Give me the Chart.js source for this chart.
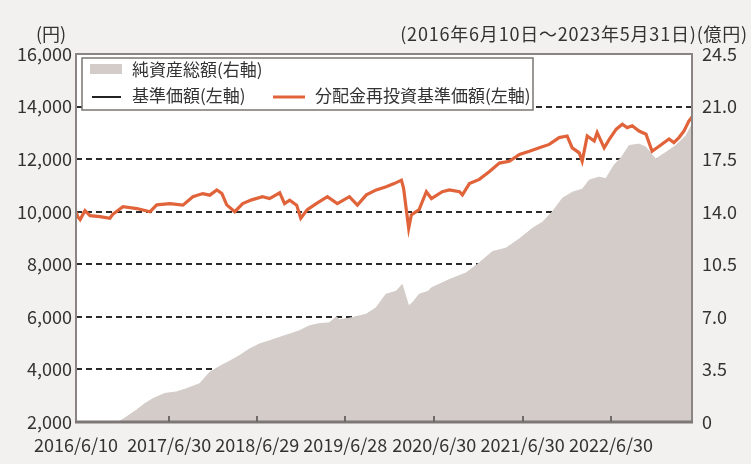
<!DOCTYPE html>
<html>
<head>
<meta charset="utf-8">
<script src="https://cdn.jsdelivr.net/npm/chart.js@4.4.1/dist/chart.umd.min.js"></script>
<style>
  html, body { margin: 0; padding: 0; background: #f2f1ef; }
  #wrap { width: 751px; height: 464px; position: relative; }
  canvas { display: block; }
</style>
</head>
<body>
<div id="wrap"><canvas id="c" width="751" height="464"></canvas></div>
<script>
// ---------- data ----------
const seriesLabels = ['純資産総額(右軸)', '基準価額(左軸)', '分配金再投資基準価額(左軸)'];
const leftUnit = '(円)';
const rightHeader = '(2016年6月10日～2023年5月31日)(億円)';
const startDate = '2016-06-10';
const endDate = '2023-05-31';
const xTickDates = ['2016-06-10','2017-06-30','2018-06-29','2019-06-28','2020-06-30','2021-06-30','2022-06-30'];
const xTickLabels = ['2016/6/10','2017/6/30','2018/6/29','2019/6/28','2020/6/30','2021/6/30','2022/6/30'];

const navDates = ['2016-06-10','2016-06-18','2016-06-27','2016-07-17','2016-08-07','2016-09-17','2016-10-28','2016-11-09','2016-12-21','2017-02-17','2017-04-12','2017-05-10','2017-07-03','2017-08-26','2017-10-06','2017-11-16','2017-12-15','2018-01-13','2018-02-03','2018-02-23','2018-03-28','2018-04-30','2018-06-06','2018-07-21','2018-08-19','2018-09-30','2018-10-20','2018-11-10','2018-12-09','2018-12-26','2019-01-22','2019-02-28','2019-04-15','2019-05-26','2019-07-15','2019-08-17','2019-09-23','2019-11-03','2019-12-14','2020-01-16','2020-02-15','2020-02-24','2020-03-16','2020-03-27','2020-04-28','2020-05-28','2020-06-18','2020-08-02','2020-08-31','2020-10-12','2020-10-24','2020-11-22','2021-01-02','2021-02-13','2021-03-26','2021-05-06','2021-06-17','2021-07-28','2021-09-07','2021-10-18','2021-11-28','2021-12-31','2022-01-21','2022-02-19','2022-03-03','2022-03-24','2022-04-22','2022-05-04','2022-06-02','2022-06-23','2022-07-22','2022-08-16','2022-09-05','2022-09-26','2022-10-24','2022-11-22','2022-12-17','2023-01-15','2023-02-25','2023-03-17','2023-04-07','2023-04-28','2023-05-18','2023-05-31'];
const reinvestNav = [10000,9800,9700,10040,9850,9810,9750,9900,10190,10120,10000,10260,10310,10250,10570,10690,10630,10830,10690,10260,10000,10310,10450,10570,10500,10720,10310,10440,10250,9750,10080,10310,10570,10310,10570,10250,10640,10830,10950,11070,11200,10890,9370,9880,10080,10760,10500,10760,10830,10760,10640,11070,11230,11530,11850,11920,12180,12300,12430,12560,12820,12880,12430,12240,11920,12880,12690,13010,12430,12750,13140,13330,13200,13270,13070,12950,12300,12490,12770,12630,12820,13070,13450,13600];
const baseNav = [10000,9800,9700,10040,9850,9810,9750,9900,10190,10120,10000,10260,10310,10250,10570,10690,10630,10830,10690,10260,10000,10310,10450,10570,10500,10720,10310,10440,10250,9750,10080,10310,10570,10310,10570,10250,10640,10830,10950,11070,11200,10890,9370,9880,10080,10760,10500,10760,10830,10760,10640,11070,11230,11530,11850,11920,12180,12300,12430,12560,12820,12880,12430,12240,11920,12880,12690,13010,12430,12750,13140,13330,13200,13270,13070,12950,12300,12490,12770,12630,12820,13070,13450,13600];

const assetDates = ['2016-06-10','2016-12-01','2016-12-16','2017-01-06','2017-02-16','2017-03-22','2017-04-25','2017-06-12','2017-07-30','2017-09-10','2017-11-03','2017-12-14','2018-01-24','2018-03-07','2018-04-17','2018-05-28','2018-07-08','2018-08-19','2018-09-29','2018-11-09','2018-12-20','2019-01-31','2019-03-13','2019-04-23','2019-05-22','2019-06-04','2019-07-28','2019-09-22','2019-11-02','2019-12-13','2020-01-24','2020-02-18','2020-03-16','2020-04-04','2020-04-28','2020-06-05','2020-06-18','2020-08-31','2020-11-08','2021-01-02','2021-02-26','2021-04-22','2021-06-17','2021-08-10','2021-09-20','2021-10-31','2021-12-12','2022-01-22','2022-03-04','2022-04-01','2022-05-12','2022-06-09','2022-07-13','2022-08-16','2022-09-13','2022-10-24','2022-11-21','2023-01-01','2023-02-12','2023-03-25','2023-05-06','2023-05-31'];
const netAssets = [0,0,0.13,0.35,0.8,1.23,1.56,1.9,2.0,2.22,2.55,3.3,3.7,4.05,4.42,4.86,5.19,5.41,5.63,5.85,6.07,6.4,6.55,6.6,7.0,6.8,6.95,7.17,7.6,8.5,8.7,9.15,7.72,8.0,8.5,8.7,8.93,9.48,9.92,10.6,11.35,11.57,12.2,12.9,13.3,14.0,14.9,15.3,15.5,16.1,16.3,16.2,17.1,17.7,18.4,18.5,18.3,17.5,17.95,18.4,19.05,19.8];

// ---------- helpers ----------
function dayNum(s) {
  const p = s.split('-').map(Number);
  const q = startDate.split('-').map(Number);
  return Math.round((Date.UTC(p[0], p[1] - 1, p[2]) - Date.UTC(q[0], q[1] - 1, q[2])) / 86400000);
}
function pts(dates, vals) { return dates.map((d, i) => ({ x: dayNum(d), y: vals[i] })); }

const FONT = '"Noto Sans CJK JP", "Noto Sans", sans-serif';
const TXT = '#333333';
const ORANGE = '#e0633a';
const AREA = '#d3ccc8';

const decor = {
  id: 'decor',
  beforeDraw(chart) {
    const { ctx, chartArea: a } = chart;
    ctx.save();
    ctx.fillStyle = '#f2f1ef';
    ctx.fillRect(0, 0, chart.width, chart.height);
    ctx.fillStyle = '#ffffff';
    ctx.fillRect(a.left, a.top, a.right - a.left, a.bottom - a.top);
    ctx.restore();
  },
  beforeDatasetsDraw(chart) {
    const { ctx, chartArea: a, scales } = chart;
    const y = scales.y;
    ctx.save();
    ctx.strokeStyle = '#2a2a2a';
    ctx.lineWidth = 1.8;
    ctx.setLineDash([6, 4]);
    y.ticks.forEach(t => {
      if (t.value === y.min || t.value === y.max) return;
      const py = Math.round(y.getPixelForValue(t.value));
      ctx.beginPath(); ctx.moveTo(a.left, py); ctx.lineTo(a.right, py); ctx.stroke();
    });
    ctx.restore();
  },
  afterDatasetsDraw(chart) {
    const { ctx, chartArea: a, scales } = chart;
    ctx.save();
    ctx.strokeStyle = '#8a8583';
    ctx.lineWidth = 2;
    ctx.beginPath();
    ctx.moveTo(a.left, a.bottom); ctx.lineTo(a.left, a.top); ctx.lineTo(a.right, a.top); ctx.lineTo(a.right, a.bottom);
    ctx.stroke();
    ctx.strokeStyle = '#7d7876';
    ctx.lineWidth = 3;
    ctx.beginPath(); ctx.moveTo(a.left - 1, a.bottom); ctx.lineTo(a.right + 1, a.bottom); ctx.stroke();
    ctx.strokeStyle = '#6f6a68';
    ctx.lineWidth = 2;
    scales.x.ticks.forEach((t, i) => {
      if (i === 0) return;
      const px = Math.round(scales.x.getPixelForValue(t.value));
      ctx.beginPath(); ctx.moveTo(px, a.bottom); ctx.lineTo(px, a.bottom - 6); ctx.stroke();
    });
    ctx.restore();
  },
  afterDraw(chart) {
    const { ctx } = chart;
    const ds = chart.data.datasets;
    ctx.save();
    ctx.fillStyle = TXT;
    ctx.font = '18px ' + FONT;
    ctx.textBaseline = 'middle';
    ctx.textAlign = 'center';
    ctx.fillText(leftUnit, 51, 34);
    ctx.textAlign = 'right';
    if ('letterSpacing' in ctx) ctx.letterSpacing = '0.8px';
    ctx.fillText(rightHeader, 748, 34);
    if ('letterSpacing' in ctx) ctx.letterSpacing = '0px';
    ctx.fillStyle = '#ffffff';
    ctx.fillRect(82, 58, 451, 52);
    ctx.strokeStyle = '#7a7573';
    ctx.lineWidth = 1.5;
    ctx.strokeRect(82, 58, 451, 52);
    ctx.textAlign = 'left';
    ctx.font = '17px ' + FONT;
    ctx.fillStyle = AREA;
    ctx.fillRect(90, 64, 32, 10);
    ctx.fillStyle = TXT;
    ctx.fillText(ds[2].label, 132, 70);
    ctx.strokeStyle = '#222';
    ctx.lineWidth = 2;
    ctx.beginPath(); ctx.moveTo(92, 97); ctx.lineTo(121, 97); ctx.stroke();
    ctx.fillText(ds[1].label, 132, 96);
    ctx.strokeStyle = ORANGE;
    ctx.lineWidth = 3;
    ctx.beginPath(); ctx.moveTo(273, 97); ctx.lineTo(305, 97); ctx.stroke();
    ctx.fillText(ds[0].label, 315, 96);
    ctx.restore();
  }
};

Chart.defaults.font.family = FONT;
Chart.defaults.color = TXT;

new Chart(document.getElementById('c'), {
  type: 'line',
  data: {
    datasets: [
      { label: seriesLabels[2], data: pts(navDates, reinvestNav), yAxisID: 'y', borderColor: ORANGE, borderWidth: 3.2, pointRadius: 0, tension: 0, fill: false, order: 0 },
      { label: seriesLabels[1], data: pts(navDates, baseNav), yAxisID: 'y', borderColor: '#222222', borderWidth: 1.5, pointRadius: 0, tension: 0, fill: false, order: 1 },
      { label: seriesLabels[0], data: pts(assetDates, netAssets), yAxisID: 'y2', borderColor: AREA, borderWidth: 1, backgroundColor: AREA, pointRadius: 0, tension: 0, fill: 'origin', order: 2 }
    ]
  },
  options: {
    responsive: false,
    animation: false,
    devicePixelRatio: 1,
    layout: { padding: { top: 54, left: 0, right: 0, bottom: 0 } },
    plugins: { legend: { display: false }, tooltip: { enabled: false } },
    scales: {
      x: {
        type: 'linear',
        min: 0,
        max: dayNum(endDate),
        grid: { display: false, drawTicks: false },
        border: { display: false },
        afterBuildTicks(scale) { scale.ticks = xTickDates.map(d => ({ value: dayNum(d) })); },
        ticks: {
          autoSkip: false, maxRotation: 0, padding: 12,
          font: { size: 18 },
          callback(v) { const i = xTickDates.findIndex(d => dayNum(d) === v); return i >= 0 ? xTickLabels[i] : ''; }
        },
        afterFit(scale) { scale.height = 42; }
      },
      y: {
        position: 'left',
        min: 2000, max: 16000,
        grid: { display: false, drawTicks: false },
        border: { display: false },
        ticks: { stepSize: 2000, padding: 4, font: { size: 18 }, callback: v => v.toLocaleString('en-US') },
        afterFit(scale) { scale.width = 76; }
      },
      y2: {
        position: 'right',
        min: 0, max: 24.5,
        grid: { display: false, drawTicks: false },
        border: { display: false },
        ticks: { stepSize: 3.5, padding: 10, font: { size: 18 }, callback: v => v === 0 ? '0' : v.toFixed(1) },
        afterFit(scale) { scale.width = 59; }
      }
    }
  },
  plugins: [decor]
});
</script>
</body>
</html>
